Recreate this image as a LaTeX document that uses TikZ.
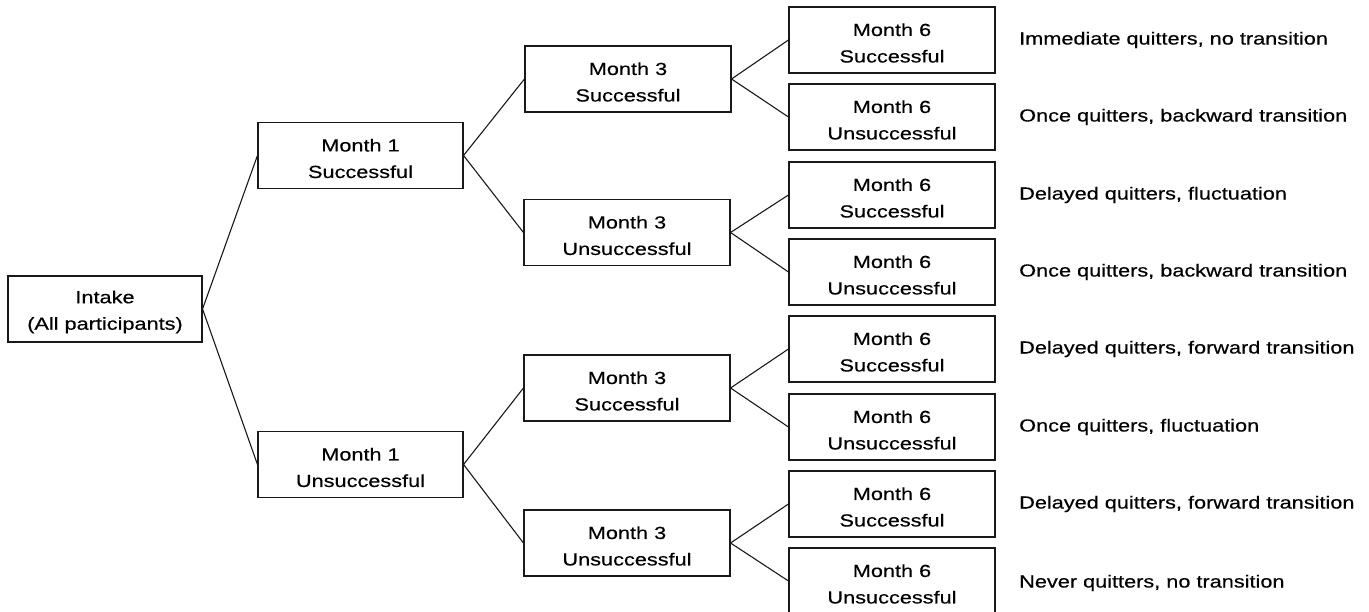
\documentclass[tikz,border=0pt]{standalone}
\usepackage{fontspec}
\setmainfont{Liberation Sans}
\newfontfamily\widefont[FakeStretch=1.24,FakeBold=0.4]{Liberation Sans}
\newcommand{\twoline}[2]{\rule{0pt}{18.6pt}#1\\#2}
\begin{document}
\begin{tikzpicture}[x=1pt,y=-1pt,
  box/.style={draw=black!90, line width=1.1pt, minimum width=206pt, minimum height=66pt,
    inner sep=0pt, align=center, font=\widefont\fontsize{17.5}{26.5}\selectfont},
  lbl/.style={anchor=west, inner sep=0pt, font=\widefont\fontsize{17.5}{20}\selectfont},
  link/.style={draw=black!90, line width=1.1pt}]
\useasboundingbox (0,0) rectangle (1369,612);
% root
\node[box, minimum width=194pt] (in) at (105,309) {\twoline{Intake}{(All participants)}};
% month 1
\node[box, minimum width=205pt] (s1) at (360.5,155.5) {\twoline{Month 1}{Successful}};
\node[box, minimum width=205pt] (u1) at (360.5,464.5) {\twoline{Month 1}{Unsuccessful}};
% month 3
\node[box] (ss3) at (628,79) {\twoline{Month 3}{Successful}};
\node[box] (su3) at (627,232.5) {\twoline{Month 3}{Unsuccessful}};
\node[box] (us3) at (627,388) {\twoline{Month 3}{Successful}};
\node[box] (uu3) at (627,543) {\twoline{Month 3}{Unsuccessful}};
% month 6
\node[box] (a6) at (892,40) {\twoline{Month 6}{Successful}};
\node[box] (b6) at (892,117) {\twoline{Month 6}{Unsuccessful}};
\node[box] (c6) at (892,195) {\twoline{Month 6}{Successful}};
\node[box] (d6) at (892,272) {\twoline{Month 6}{Unsuccessful}};
\node[box] (e6) at (892,349) {\twoline{Month 6}{Successful}};
\node[box] (f6) at (892,427) {\twoline{Month 6}{Unsuccessful}};
\node[box] (g6) at (892,504) {\twoline{Month 6}{Successful}};
\node[box] (h6) at (892,581) {\twoline{Month 6}{Unsuccessful}};
% labels
\node[lbl] (la) at (1019,40) {Immediate quitters, no transition};
\node[lbl] (lb) at (1019,117) {Once quitters, backward transition};
\node[lbl] (lc) at (1019,195) {Delayed quitters, fluctuation};
\node[lbl] (ld) at (1019,272) {Once quitters, backward transition};
\node[lbl] (le) at (1019,349) {Delayed quitters, forward transition};
\node[lbl] (lf) at (1019,427) {Once quitters, fluctuation};
\node[lbl] (lg) at (1019,504) {Delayed quitters, forward transition};
\node[lbl] (lh) at (1019,583) {Never quitters, no transition};
% connectors
\path[link] (in.east) -- (s1.west);
\path[link] (in.east) -- (u1.west);
\path[link] (s1.east) -- (ss3.west);
\path[link] (s1.east) -- (su3.west);
\path[link] (u1.east) -- (us3.west);
\path[link] (u1.east) -- (uu3.west);
\path[link] (ss3.east) -- (a6.west);
\path[link] (ss3.east) -- (b6.west);
\path[link] (su3.east) -- (c6.west);
\path[link] (su3.east) -- (d6.west);
\path[link] (us3.east) -- (e6.west);
\path[link] (us3.east) -- (f6.west);
\path[link] (uu3.east) -- (g6.west);
\path[link] (uu3.east) -- (h6.west);
\end{tikzpicture}
\end{document}
